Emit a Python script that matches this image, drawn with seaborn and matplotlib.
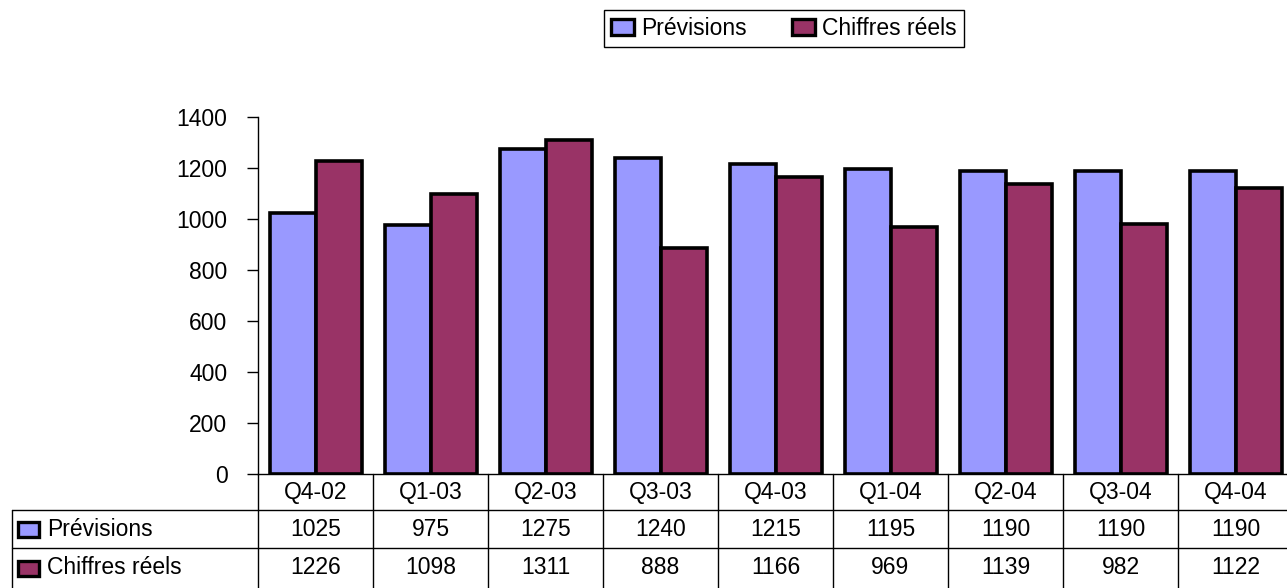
import seaborn as sns
import pandas as pd
import matplotlib.pyplot as plt
from matplotlib.patches import Patch, Rectangle
from matplotlib.transforms import blended_transform_factory

# Chart data
quarters = ["Q4-02", "Q1-03", "Q2-03", "Q3-03", "Q4-03", "Q1-04", "Q2-04", "Q3-04", "Q4-04"]
previsions = [1025, 975, 1275, 1240, 1215, 1195, 1190, 1190, 1190]
chiffres_reels = [1226, 1098, 1311, 888, 1166, 969, 1139, 982, 1122]
series_names = ["Prévisions", "Chiffres réels"]
series_colors = ["#9999FF", "#993366"]
y_ticks = [0, 200, 400, 600, 800, 1000, 1200, 1400]

df = pd.DataFrame({
    "Trimestre": quarters * 2,
    "Série": [series_names[0]] * len(quarters) + [series_names[1]] * len(quarters),
    "Valeur": previsions + chiffres_reels,
})

sns.set_style("white")
plt.rcParams['font.family'] = ['Liberation Sans', 'DejaVu Sans']
plt.rcParams.update({"text.color": "black", "ytick.color": "black",
                     "xtick.color": "black", "axes.edgecolor": "black"})
FS = 16.5

W, H = 1287, 588
fig = plt.figure(figsize=(W / 100, H / 100), dpi=100)
# axes spans 9 categories of ~115 px, slightly past the right edge like the source
ax = fig.add_axes([258 / W, 114 / H, 1035 / W, 357 / H])

sns.barplot(data=df, x="Trimestre", y="Valeur", hue="Série", palette=series_colors,
            saturation=1, width=0.8, edgecolor="black", linewidth=2.6, ax=ax,
            legend=False)

ax.set_xlim(-0.5, len(quarters) - 0.5)
ax.set_ylim(0, 1400)
ax.set_yticks(y_ticks)
ax.set_yticklabels([str(v) for v in y_ticks], fontsize=FS)
ax.tick_params(axis="y", left=True, direction="out", length=8, width=1,
               color="black", pad=14)
ax.tick_params(axis="x", length=0, labelbottom=False)
ax.set_xlabel("")
ax.set_ylabel("")
for side in ["top", "right"]:
    ax.spines[side].set_visible(False)
for side in ["left", "bottom"]:
    ax.spines[side].set_color("black")
    ax.spines[side].set_linewidth(1)

# ---- data table under the chart ----
trans = blended_transform_factory(ax.transData, ax.transAxes)
px_x = 1 / 115  # data units per pixel horizontally
px_y = 1 / 357  # axes units per pixel vertically
row1, row2, bottom = -36 * px_y, -74 * px_y, -130 * px_y
left_edge = -0.5 - 246 * px_x
right_edge = len(quarters)

for i in range(len(quarters) + 1):
    ax.plot([i - 0.5, i - 0.5], [0, bottom], color="black", lw=1,
            transform=trans, clip_on=False)
for yy in [row1, row2]:
    ax.plot([left_edge, right_edge], [yy, yy], color="black", lw=1,
            transform=trans, clip_on=False)
ax.plot([left_edge, left_edge], [row1, bottom], color="black", lw=1,
        transform=trans, clip_on=False)

for i, q in enumerate(quarters):
    ax.text(i, -18 * px_y, q, transform=trans, ha="center", va="center", fontsize=FS)
    ax.text(i, -55 * px_y, str(previsions[i]), transform=trans, ha="center",
            va="center", fontsize=FS)
    ax.text(i, -94 * px_y, str(chiffres_reels[i]), transform=trans, ha="center",
            va="center", fontsize=FS)

for name, color, yc in zip(series_names, series_colors, [-55 * px_y, -94 * px_y]):
    ax.add_patch(Rectangle((left_edge + 6 * px_x, yc - 7.5 * px_y), 21 * px_x, 15 * px_y,
                           transform=trans, facecolor=color, edgecolor="black",
                           lw=2.4, clip_on=False))
    ax.text(left_edge + 35 * px_x, yc, name, transform=trans, ha="left",
            va="center", fontsize=FS)

# legend at the top
handles = [Patch(facecolor=c, edgecolor="black", linewidth=2.4) for c in series_colors]
leg = fig.legend(handles, series_names, loc="upper center",
                 bbox_to_anchor=(784 / W, 1 - 10 / H), ncol=2, frameon=True,
                 fancybox=False, edgecolor="black", framealpha=1, fontsize=FS,
                 handlelength=1.0, handleheight=0.7, handletextpad=0.3,
                 columnspacing=2.0, borderpad=0.3, borderaxespad=0)
leg.get_frame().set_linewidth(1)

fig.savefig("out.png", dpi=100)
